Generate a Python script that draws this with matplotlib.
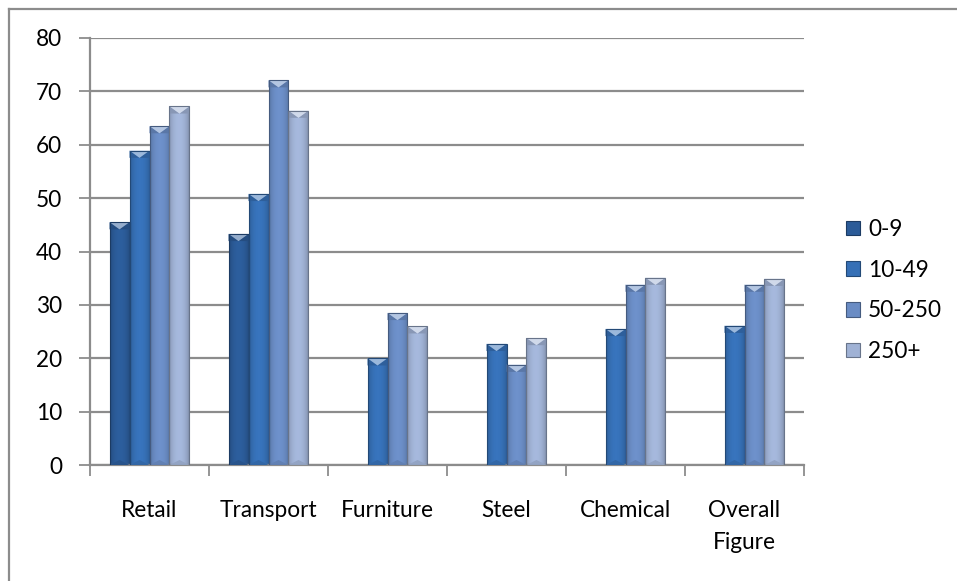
import numpy as np
import matplotlib.pyplot as plt
import matplotlib.colors as mcolors
from matplotlib.patches import Polygon, Rectangle
from matplotlib.lines import Line2D

plt.rcParams['font.family'] = ['Lato', 'DejaVu Sans']

categories = ["Retail", "Transport", "Furniture", "Steel", "Chemical", "Overall\nFigure"]
series_names = ["0-9", "10-49", "50-250", "250+"]
size_0_9 = [45.5, 43.3, np.nan, np.nan, np.nan, np.nan]
size_10_49 = [58.9, 50.8, 20.0, 22.7, 25.5, 26.1]
size_50_250 = [63.5, 72.1, 28.5, 18.8, 33.8, 33.8]
size_250_plus = [67.2, 66.4, 26.0, 23.8, 35.1, 34.9]
series_values = [size_0_9, size_10_49, size_50_250, size_250_plus]
colors = ["#2b5b98", "#3670b6", "#6a8cc4", "#a0b2d5"]

grid_grey = "#8c8c8c"
bar_w = 0.168
fs = 16.3


def lighten(c, amt):
    c = np.array(mcolors.to_rgb(c))
    return tuple(c + (1 - c) * amt)


def darken(c, amt):
    c = np.array(mcolors.to_rgb(c))
    return tuple(c * (1 - amt))


def bevel_bar(ax, bar, color):
    x, w, h = bar.get_x(), bar.get_width(), bar.get_height()
    if not np.isfinite(h) or h <= 0:
        return
    base = np.array(mcolors.to_rgb(color))
    t = np.linspace(0, 1, 80)
    prof = 0.80 + 0.24 * np.sin(np.pi * t) ** 0.6
    img = np.clip(base[None, :] * prof[:, None], 0, 1)
    im = ax.imshow(img[None], extent=(x, x + w, 0, h), aspect="auto",
                   interpolation="bilinear", zorder=2)
    im.set_clip_path(bar)
    cap = 1.35
    # light chevron on top, darker corners beside it
    ax.add_patch(Polygon([(x, h), (x + w / 2, h - cap), (x, h - cap)],
                         closed=True, color=darken(color, 0.15), lw=0, zorder=3))
    ax.add_patch(Polygon([(x + w, h), (x + w / 2, h - cap), (x + w, h - cap)],
                         closed=True, color=darken(color, 0.15), lw=0, zorder=3))
    ax.add_patch(Polygon([(x, h), (x + w, h), (x + w / 2, h - cap)],
                         closed=True, color=lighten(color, 0.5), lw=0, zorder=3))
    ax.add_patch(Polygon([(x, 0), (x + w, 0), (x + w / 2, cap * 0.7)],
                         closed=True, color=darken(color, 0.08), lw=0, zorder=3))
    ax.add_patch(Rectangle((x, 0), w, h, fill=False, lw=0.8,
                           ec=darken(color, 0.35), zorder=4))


fig = plt.figure(figsize=(9.57, 5.81), dpi=100)
ax = fig.add_axes([90 / 957, 116 / 581, 714 / 957, 427 / 581])

x = np.arange(len(categories))
for i, (vals, col, name) in enumerate(zip(series_values, colors, series_names)):
    bars = ax.bar(x + (i - 1.5) * bar_w, vals, width=bar_w, color="none",
                  lw=0, zorder=2)
    for b in bars:
        bevel_bar(ax, b, col)

ax.set_xlim(-0.5, len(categories) - 0.5)
ax.set_ylim(0, 80)
ax.set_yticks(np.arange(0, 81, 10))
ax.yaxis.grid(True, color=grid_grey, lw=1.6)
ax.set_axisbelow(True)

ax.set_xticks(x)
ax.set_xticklabels(categories, fontsize=fs, linespacing=1.65, va="top")
ax.set_xticks(np.arange(-0.5, len(categories), 1), minor=True)
ax.tick_params(axis="x", which="major", length=0, pad=25)
ax.tick_params(axis="x", which="minor", length=8, width=1.3, color=grid_grey)
ax.tick_params(axis="y", length=8, width=1.3, color=grid_grey, pad=12, labelsize=fs)

for s in ["top", "right"]:
    ax.spines[s].set_visible(False)
for s in ["left", "bottom"]:
    ax.spines[s].set_color(grid_grey)
    ax.spines[s].set_linewidth(1.6)

handles = [Rectangle((0, 0), 1, 1, fc=c, ec=darken(c, 0.35), lw=0.8) for c in colors]
fig.legend(handles, series_names, loc="center left", bbox_to_anchor=(826 / 957, 0.5),
           frameon=False, fontsize=fs, handlelength=0.6, handleheight=0.6,
           handletextpad=0.35, labelspacing=0.87)

# chart frame
fig.add_artist(Line2D([8.5 / 957, 1], [1 - 8.5 / 581, 1 - 8.5 / 581],
                      transform=fig.transFigure, color=grid_grey, lw=1.6))
fig.add_artist(Line2D([8.5 / 957, 8.5 / 957], [0, 1 - 8.5 / 581],
                      transform=fig.transFigure, color=grid_grey, lw=1.6))

fig.savefig("out.png", dpi=100)
